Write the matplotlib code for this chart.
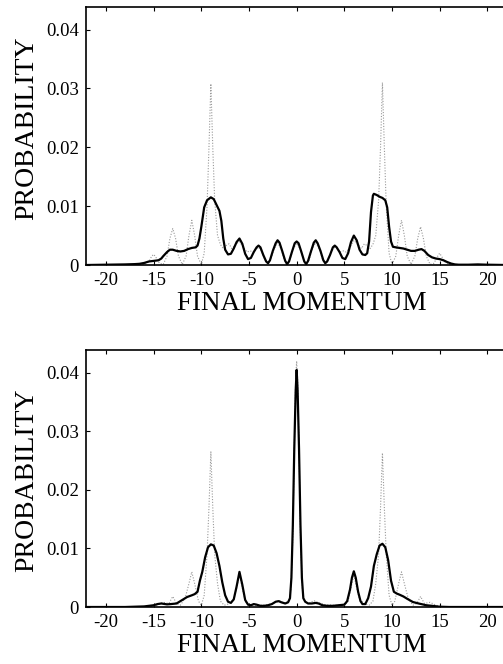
import numpy as np
import matplotlib
matplotlib.use("Agg")
import matplotlib.pyplot as plt

# ---------------- data (probability values in units of 1e-3) ----------------
# Top panel, solid curve
top_solid_x = [-22, -20, -18, -17, -16.5, -16, -15.5, -15, -14.5, -14.2, -14, -13.6, -13.3, -13, -12.6,
               -12.2, -11.8, -11.4, -11, -10.6, -10.4, -10.2, -10.0, -9.7, -9.4, -9.0, -8.7, -8.4, -8.1,
               -7.9, -7.7, -7.5, -7.2, -6.9, -6.6, -6.3, -6.0, -5.7, -5.4, -5.1, -4.8, -4.5, -4.2, -4.0,
               -3.8, -3.5, -3.2, -3.0, -2.8, -2.5, -2.2, -2.0, -1.8, -1.5, -1.2, -1.0, -0.8, -0.5, -0.2,
               0, 0.2, 0.5, 0.8, 1.0, 1.2, 1.5, 1.8, 2.0, 2.2, 2.5, 2.8, 3.0, 3.2, 3.5, 3.8, 4.0, 4.2,
               4.5, 4.8, 5.1, 5.4, 5.7, 6.0, 6.3, 6.6, 6.9, 7.2, 7.4, 7.6, 7.8, 8.0, 8.1, 8.4, 8.7, 9.0,
               9.3, 9.5, 9.7, 9.9, 10.1, 10.4, 10.8, 11.2, 11.6, 12.0, 12.4, 12.8, 13.1, 13.4, 13.8,
               14.2, 14.6, 15.0, 15.4, 15.8, 16.2, 16.6, 17, 18, 19, 20, 22]
top_solid_y = [0, 0.05, 0.1, 0.15, 0.2, 0.35, 0.6, 0.7, 0.8, 1.1, 1.5, 2.2, 2.6, 2.6, 2.4,
               2.3, 2.4, 2.7, 2.9, 3.0, 3.3, 4.5, 6.5, 9.8, 11.0, 11.5, 11.2, 10.2, 9.2,
               7.5, 4.5, 2.6, 1.8, 1.9, 2.8, 3.9, 4.5, 3.6, 1.9, 1.0, 1.2, 2.2, 3.0, 3.3,
               3.0, 1.7, 0.6, 0.3, 0.8, 2.4, 3.7, 4.2, 3.8, 2.3, 0.7, 0.15, 0.6, 2.2, 3.7,
               4.0, 3.7, 2.2, 0.6, 0.15, 0.7, 2.3, 3.8, 4.2, 3.7, 2.4, 0.8, 0.3, 0.6, 1.7, 3.0, 3.3, 3.0,
               2.2, 1.2, 1.0, 2.0, 3.9, 5.0, 4.2, 2.6, 1.8, 1.7, 2.0, 4.0, 9.0, 11.8, 12.1, 11.9, 11.6, 11.4,
               11.0, 9.8, 6.5, 4.0, 3.1, 3.0, 2.9, 2.8, 2.6, 2.4, 2.4, 2.6, 2.7, 2.4, 1.7,
               1.3, 1.1, 1.0, 0.8, 0.5, 0.25, 0.1, 0.05, 0.05, 0.1, 0.05, 0]

# Top panel, dotted curve
top_dot_x = [-22, -17, -16, -15.5, -15.2, -15.0, -14.8, -14.4, -14.0, -13.6, -13.3, -13.0, -12.7, -12.4,
             -12.0, -11.6, -11.3, -11.0, -10.7, -10.4, -10.0, -9.7, -9.4, -9.2, -9.0, -8.8, -8.6, -8.3,
             -8.0, -7.7, -7.4, -7.1, -6.8, -6.4, -6.0, -5.6, -5.2, -4.9, -4.5, -4.2, -4.0, -3.7, -3.3,
             -3.0, -2.7, -2.4, -2.0, -1.6, -1.3, -1.0, -0.7, -0.4, 0, 0.4, 0.7, 1.0, 1.3, 1.6, 2.0, 2.4,
             2.7, 3.0, 3.3, 3.7, 4.0, 4.2, 4.5, 4.9, 5.2, 5.6, 6.0, 6.4, 6.8, 7.1, 7.4, 7.7, 8.0, 8.3,
             8.6, 8.8, 9.0, 9.2, 9.4, 9.7, 10.0, 10.4, 10.7, 11.0, 11.3, 11.6, 12.0, 12.4, 12.7, 13.0,
             13.3, 13.6, 14.0, 14.4, 14.8, 15.0, 15.2, 15.5, 16, 17, 22]
top_dot_y = [0, 0, 0.1, 0.6, 1.5, 1.8, 1.4, 0.3, 0.1, 1.5, 4.5, 6.2, 4.5, 1.5,
             0.1, 1.5, 5.0, 7.6, 5.0, 1.5, 0.1, 2.0, 10.0, 20.0, 30.8, 20.0, 11.0, 5.0,
             3.5, 2.8, 3.3, 3.6, 2.8, 3.5, 4.0, 3.0, 2.2, 2.4, 2.2, 2.8, 3.0, 2.4, 0.8,
             0.5, 1.0, 2.6, 3.8, 2.6, 0.8, 0.3, 0.9, 2.6, 3.7, 2.6, 0.9, 0.3, 0.8, 2.6, 3.8, 2.6,
             1.0, 0.5, 0.8, 2.4, 3.0, 2.8, 2.2, 2.4, 2.2, 3.0, 4.2, 3.5, 2.8, 3.6, 3.3, 2.8, 3.5, 5.0,
             11.0, 20.0, 31.0, 20.0, 10.0, 2.0, 0.1, 1.5, 5.0, 7.6, 5.0, 1.5, 0.1, 1.5, 4.5, 6.5,
             4.5, 1.5, 0.1, 0.3, 1.5, 2.0, 1.5, 0.6, 0.1, 0, 0]

# Bottom panel, solid curve
bot_solid_x = [-22, -18, -17, -16, -15.5, -15, -14.6, -14.2, -13.6, -13.2, -12.6, -12.0, -11.5, -11.0,
               -10.7, -10.4, -10.15, -9.9, -9.6, -9.3, -9.0, -8.7, -8.4, -8.1, -7.8, -7.5, -7.2, -6.9,
               -6.6, -6.3, -6.0, -5.7, -5.4, -5.1, -4.8, -4.5, -4.2, -3.8, -3.4, -3.0, -2.6, -2.2, -1.9,
               -1.6, -1.2, -0.9, -0.7, -0.55, -0.4, -0.25, -0.1, 0, 0.1, 0.25, 0.4, 0.55, 0.7, 0.9, 1.2,
               1.6, 2.0, 2.3, 2.7, 3.2, 3.8, 4.4, 5.0, 5.3, 5.6, 5.8, 6.0, 6.2, 6.45, 6.7, 6.9, 7.2, 7.5,
               7.8, 8.1, 8.4, 8.7, 9.0, 9.3, 9.6, 9.9, 10.2, 10.5, 10.8, 11.2, 11.6, 12.2, 12.8, 13.6,
               14.2, 15.0, 16, 22]
bot_solid_y = [0, 0, 0.05, 0.1, 0.2, 0.3, 0.5, 0.6, 0.45, 0.5, 0.6, 1.2, 1.7, 2.0,
               2.2, 2.6, 4.5, 6.0, 8.5, 10.2, 10.7, 10.5, 9.2, 7.0, 4.2, 2.0, 0.9, 0.7,
               1.3, 3.5, 6.0, 3.8, 1.2, 0.4, 0.3, 0.5, 0.4, 0.2, 0.2, 0.3, 0.5, 0.9, 1.0,
               0.8, 0.6, 0.8, 1.5, 5.0, 14.0, 27.0, 37.0, 40.5, 37.0, 27.0, 14.0, 5.0, 1.5, 0.9, 0.6,
               0.6, 0.7, 0.6, 0.3, 0.2, 0.2, 0.3, 0.4, 1.0, 3.0, 5.0, 6.1, 5.0, 2.6, 1.0, 0.5, 0.5, 1.5,
               3.5, 7.0, 9.0, 10.5, 10.8, 10.2, 8.0, 4.5, 2.6, 2.3, 2.1, 1.8, 1.4, 0.85, 0.6, 0.3,
               0.2, 0.05, 0, 0]

# Bottom panel, dotted curve
bot_dot_x = [-22, -16, -15, -14.5, -14.0, -13.4, -13.0, -12.6, -12.2, -11.7, -11.3, -11.0, -10.7, -10.3,
             -10.0, -9.7, -9.4, -9.2, -9.0, -8.8, -8.6, -8.3, -8.0, -7.6, -7.2, -6.6, -6.3, -6.0, -5.7,
             -5.4, -5.0, -4.0, -3.0, -2.2, -1.8, -1.3, -0.8, -0.6, -0.4, -0.25, -0.1, 0, 0.1, 0.25, 0.4,
             0.6, 0.8, 1.3, 1.8, 2.2, 3.0, 4.0, 5.0, 5.4, 5.7, 6.0, 6.3, 6.6, 7.2, 7.6, 8.0, 8.3, 8.6,
             8.8, 9.0, 9.2, 9.4, 9.7, 10.0, 10.3, 10.7, 11.0, 11.3, 11.7, 12.2, 12.6, 13.0, 13.4, 14.0,
             14.5, 15, 16, 22]
bot_dot_y = [0, 0, 0.1, 0.4, 0.8, 0.6, 1.8, 0.6, 0.3, 1.5, 4.0, 6.0, 4.0, 1.0,
             0.3, 2.0, 9.0, 17.0, 26.5, 17.0, 9.0, 4.0, 1.0, 0.3, 0.5, 1.3, 3.2, 5.5, 3.2,
             1.0, 0.3, 0.3, 0.4, 0.8, 1.1, 0.6, 1.0, 3.0, 12.0, 27.0, 39.0, 42.0, 39.0, 27.0, 12.0,
             3.0, 1.0, 0.6, 1.1, 0.8, 0.4, 0.3, 0.3, 1.0, 3.2, 5.5, 3.2, 1.3, 0.5, 0.3, 1.0, 4.0, 9.0,
             17.0, 26.3, 17.0, 9.0, 2.0, 0.3, 1.0, 4.0, 6.0, 4.0, 1.5, 0.3, 0.6, 1.8, 0.6, 0.8,
             0.4, 0.1, 0, 0]

x_ticks = [-20, -15, -10, -5, 0, 5, 10, 15, 20]
x_ticklabels = ["-20", "-15", "-10", "-5", "0", "5", "10", "15", "20"]
y_ticks = [0, 0.01, 0.02, 0.03, 0.04]
y_ticklabels = ["0", "0.01", "0.02", "0.03", "0.04"]
x_label = "FINAL MOMENTUM"
y_label = "PROBABILITY"

SCALE = 1e-3

# ---------------- figure ----------------
plt.rcParams['font.family'] = ['Liberation Serif', 'DejaVu Serif']
fig = plt.figure(figsize=(5.03, 6.64), dpi=100)

W, H = 503.0, 664.0
left_px, right_px = 86.0, 507.3

def make_ax(top_px, bottom_px):
    return fig.add_axes([left_px / W, (H - bottom_px) / H,
                         (right_px - left_px) / W, (bottom_px - top_px) / H])

ax1 = make_ax(6.7, 265.0)
ax2 = make_ax(350.0, 607.0)

panels = [
    (ax1, top_solid_x, top_solid_y, top_dot_x, top_dot_y, 0.53),
    (ax2, bot_solid_x, bot_solid_y, bot_dot_x, bot_dot_y, 0.495),
]

for ax, sx, sy, dx, dy, ylab_pos in panels:
    ax.plot(dx, np.array(dy) * SCALE, linestyle=(0, (1, 1.5)), color="#999999",
            linewidth=0.8, zorder=2)
    ax.plot(sx, np.array(sy) * SCALE, color="black", linewidth=1.6, zorder=3)
    ax.set_xlim(-22.1, 22.1)
    ax.set_ylim(0, 0.0439)
    ax.set_xticks(x_ticks)
    ax.set_xticklabels(x_ticklabels)
    ax.set_yticks(y_ticks)
    ax.set_yticklabels(y_ticklabels)
    ax.tick_params(axis="x", direction="in", length=3, width=0.8, top=True,
                   labelsize=13.5, pad=5, colors="black")
    ax.tick_params(axis="y", direction="in", length=3, width=0.8, right=True,
                   labelsize=13.5, pad=5, colors="black")
    for sp in ax.spines.values():
        sp.set_linewidth(1.2)
    ax.set_xlabel(x_label, fontsize=19.5, va="baseline")
    ax.xaxis.set_label_coords(0.513, -0.176)
    ax.set_ylabel(y_label, fontsize=20, va="center")
    ax.yaxis.set_label_coords(-0.14, ylab_pos)

fig.savefig("out.png", dpi=100)
